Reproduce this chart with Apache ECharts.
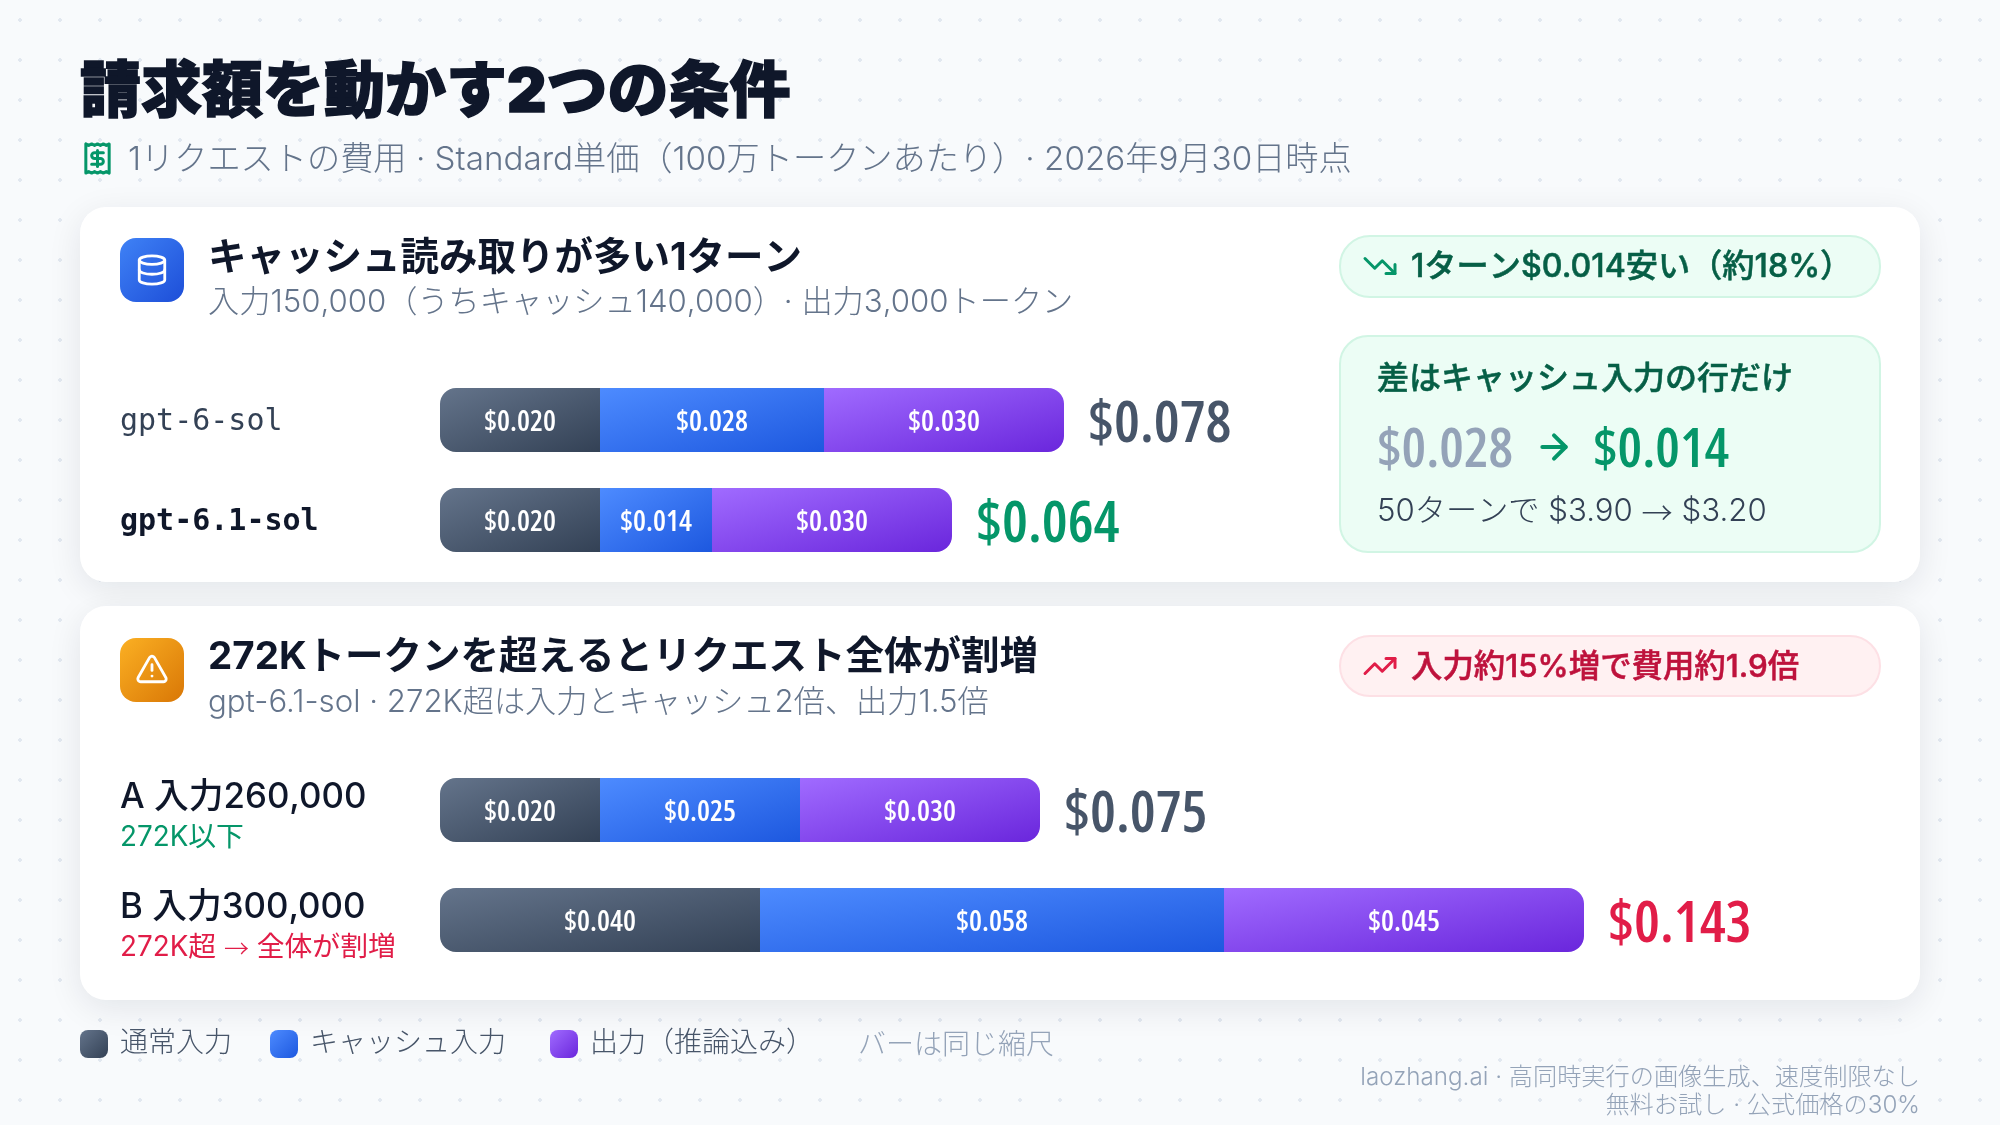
<!DOCTYPE html>
<html><head><meta charset="utf-8">
<style>
html,body{margin:0;padding:0;width:2000px;height:1125px;overflow:hidden;background-color:#f8fafc;
background-image:radial-gradient(circle,#e2e8f0 1.6px,transparent 1.9px);background-size:40px 40px;}
#c{width:2000px;height:1125px;}
</style>
<script src="https://cdn.jsdelivr.net/npm/echarts@6/dist/echarts.min.js"></script>
</head><body><div id="c"></div>
<script>
const seriesNames = ['通常入力','キャッシュ入力','出力（推論込み）'];
const cacheModels = ['gpt-6-sol','gpt-6.1-sol'];
const cacheNormal = [0.020,0.020];
const cacheCached = [0.028,0.014];
const cacheOutput = [0.030,0.030];
const cacheTotals = [0.078,0.064];
const tierCases = ['A 入力260,000','B 入力300,000'];
const tierNotes = ['272K以下','272K超 {ra|→} 全体が割増'];
const tierNormal = [0.020,0.040];
const tierCached = [0.025,0.058];
const tierOutput = [0.030,0.045];
const tierTotals = [0.075,0.143];

const CJK = "Inter,'Noto Sans CJK JP',sans-serif";
const JP = "'Noto Sans CJK JP',sans-serif";
const NUM = "'Open Sans','Noto Sans CJK JP',sans-serif";
const NARROW = 'condensed';
const MONO = "'DejaVu Sans Mono',monospace";
const GRID_W = 1200, AXIS_MAX = 0.15, BAR_H = 64;
const lg = (a,b,x2,y2)=>new echarts.graphic.LinearGradient(0,0,x2===undefined?1:x2,y2===undefined?1:y2,[{offset:0,color:a},{offset:1,color:b}]);
const fills = [['#64748b','#334155'],['#4d8bff','#1d58df'],['#a06bff','#6a26dc']];
// box-relative diagonal gradient: colour bands follow the bar's anti-diagonal
function barFill(idx,v){
  const w=v*GRID_W/AXIS_MAX,h=BAR_H,s=w*w+h*h;
  return lg(fills[idx][0],fills[idx][1],2*h*h/s,2*w*w/s);
}

function txt(x,y,text,size,color,weight,extra){
  return {type:'text',x,y,z:50,silent:true,
    style:Object.assign({text,fontSize:size,fontFamily:CJK,fill:color,fontWeight:weight||400,
      verticalAlign:'middle',align:'left'},extra||{})};
}
function box(x,y,w,h,r,fill,stroke){
  return {type:'rect',x,y,z:5,silent:true,shape:{x:0,y:0,width:w,height:h,r},
    style:{fill,stroke:stroke||null,lineWidth:stroke?2:0}};
}
let shapeCount=0;
function icon(x,y,size,paths,color,sw){
  const k=size/24;
  return {type:'group',x,y,z:60,silent:true,scaleX:k,scaleY:k,
    children:paths.map(p=>{
      const name='iconShape'+(shapeCount++);
      echarts.graphic.registerShape(name,echarts.graphic.extendPath(p,{}));
      return {type:name,z:60,style:{fill:null,stroke:color,lineWidth:sw/k,lineCap:'round',lineJoin:'round'}};
    })};
}
const shadow={shadowBlur:34,shadowOffsetY:8,shadowColor:'rgba(15,23,42,0.09)'};
function card(y,h){
  const b=box(80,y,1840,h,26,'#ffffff');
  b.z=2; Object.assign(b.style,shadow); return b;
}

const ICON_DB=['M3 5a9 3 0 1 0 18 0a9 3 0 1 0-18 0','M3 5V19A9 3 0 0 0 21 19V5','M3 12A9 3 0 0 0 21 12'];
const ICON_WARN=['m21.73 18-8-14a2 2 0 0 0-3.48 0l-8 14A2 2 0 0 0 4 21h16a2 2 0 0 0 1.73-3','M12 9v4','M12 17h.01'];
const ICON_RECEIPT=['M4 2v20l2-1 2 1 2-1 2 1 2-1 2 1 2-1 2 1V2l-2 1-2-1-2 1-2-1-2 1-2-1-2 1Z','M16 8h-6a2 2 0 1 0 0 4h4a2 2 0 1 1 0 4H8','M12 17.5v-11'];
const ICON_DOWN=['M16 17h6v-6','m22 17-8.5-8.5-5 5L2 7'];
const ICON_UP=['M16 7h6v6','m22 7-8.5 8.5-5-5L2 17'];
const ICON_ARROW=['M5 12h14','m12 5 7 7-7 7'];

const graphics=[
  card(207,375), card(606,394),
  txt(80,94,'請求額を動かす2つの条件',61,'#0f172a',900,{stroke:'#0f172a',lineWidth:1.5}),
  icon(80,141,35,ICON_RECEIPT,'#059669',3),
  txt(128,160,'1リクエストの費用 · Standard単価（100万トークンあたり）· 2026年9月30日時点',33.2,'#64748b',300),

  box(120,238,64,64,16,lg('#3f82f6','#1d4ed8')),
  icon(135,253,34,ICON_DB,'#ffffff',2.8),
  txt(208,258,'キャッシュ読み取りが多い1ターン',38.5,'#0f172a',700),
  txt(208,302.5,'入力150,000（うちキャッシュ140,000）· 出力3,000トークン',31.2,'#64748b',300),

  box(1340,236,540,61,30,'#ecfdf5','#d1f5e4'),
  icon(1362,248,36,ICON_DOWN,'#059669',3),
  txt(1411,267.5,'1ターン$0.014安い（約18%）',32.2,'#065f46',500,{stroke:'#065f46',lineWidth:0.5}),

  box(1340,336,540,216,28,'#ecfdf5','#d1f5e4'),
  txt(1377,379,'差はキャッシュ入力の行だけ',32,'#065f46',500,{stroke:'#065f46',lineWidth:0.5}),
  txt(1377,451,'$0.028',55,'#94a3b8',600,{fontFamily:NUM,fontStyle:NARROW}),
  icon(1534,427,40,ICON_ARROW,'#059669',4),
  txt(1593,451,'$0.014',55,'#059669',600,{fontFamily:NUM,fontStyle:NARROW}),
  txt(1377,512,'50ターンで $3.90 {a|→} $3.20',31.2,'#334155',300,
    {rich:{a:{fontFamily:JP,fontSize:31.2,fontWeight:300,fill:'#334155'}}}),

  box(120,638,64,64,16,lg('#fbb023','#d97706')),
  icon(135,652,34,ICON_WARN,'#ffffff',2.8),
  txt(208,657.5,'272Kトークンを超えるとリクエスト全体が割増',38.5,'#0f172a',700),
  txt(208,702.5,'gpt-6.1-sol · 272K超は入力とキャッシュ2倍、出力1.5倍',31.2,'#64748b',300),

  box(1340,636,540,60,30,'#fff1f2','#fde0e5'),
  icon(1362,648,36,ICON_UP,'#e11d48',3),
  txt(1411,667.5,'入力約15%増で費用約1.9倍',31.4,'#be123c',500,{stroke:'#be123c',lineWidth:0.5}),

  txt(858,1046,'バーは同じ縮尺',28,'#94a3b8',300),
  txt(1920,1078,'laozhang.ai · 高同時実行の画像生成、速度制限なし',24.2,'#94a3b8',300,{align:'right'}),
  txt(1920,1106,'無料お試し · 公式価格の30%',24.2,'#94a3b8',300,{align:'right'})
];

const money=v=>'$'+v.toFixed(3);
function stack(name,idx,grid,vals,stackId,radius){
  return {type:'bar',name,xAxisIndex:grid,yAxisIndex:grid,stack:stackId,barWidth:BAR_H,silent:true,z:10,
    data:vals.map(v=>({value:v,itemStyle:{color:barFill(idx,v)}})),
    itemStyle:{color:lg(fills[idx][0],fills[idx][1]),borderRadius:radius},
    label:{show:true,position:'inside',offset:[0,2.5],formatter:p=>money(p.value),color:'#ffffff',fontSize:29,fontFamily:NUM,fontStyle:NARROW,fontWeight:600}};
}
function totals(grid,vals,colors){
  return {type:'scatter',name:'total'+grid,xAxisIndex:grid,yAxisIndex:grid,symbolSize:0,silent:true,z:12,
    itemStyle:{opacity:1},
    data:vals.map((v,i)=>({value:[v,i],label:{color:colors[i]}})),
    label:{show:true,position:'right',distance:24,offset:[0,5],opacity:1,formatter:p=>money(p.value[0]),fontSize:58,fontFamily:NUM,fontStyle:NARROW,fontWeight:600}};
}
const R0=[16,0,0,16],R2=[0,16,16,0];
const legendIcon='path://M8 0h12a8 8 0 0 1 8 8v12a8 8 0 0 1-8 8H8a8 8 0 0 1-8-8V8a8 8 0 0 1 8-8z';
const legendLefts=[80,270,550];

const option={
  animation:false,
  textStyle:{fontFamily:CJK},
  graphic:{elements:graphics},
  grid:[
    {left:440,top:370,width:GRID_W,height:200},
    {left:440,top:755,width:GRID_W,height:220}
  ],
  xAxis:[
    {type:'value',gridIndex:0,min:0,max:AXIS_MAX,show:false},
    {type:'value',gridIndex:1,min:0,max:AXIS_MAX,show:false}
  ],
  yAxis:[
    {type:'category',gridIndex:0,inverse:true,data:cacheModels,z:20,
      axisLine:{show:false},axisTick:{show:false},
      axisLabel:{margin:320,align:'left',fontFamily:MONO,fontSize:30,padding:[5,0,0,0],
        formatter:(v,i)=>i===1?'{b|'+v+'}':'{n|'+v+'}',
        rich:{n:{fontFamily:MONO,fontSize:30,color:'#334155'},
              b:{fontFamily:MONO,fontSize:30,color:'#0f172a',fontWeight:700}}}},
    {type:'category',gridIndex:1,inverse:true,data:tierCases,z:20,
      axisLine:{show:false},axisTick:{show:false},
      axisLabel:{margin:320,align:'left',padding:[14,0,0,0],
        formatter:(v,i)=>'{h|'+v+'}\n{'+(i===0?'g':'r')+'|'+(i===0?tierNotes[i]:tierNotes[i].split(/\{ra\|→\}/).join('}{ra|→}{r|'))+'}',
        rich:{h:{fontFamily:CJK,fontSize:34.8,fontWeight:500,color:'#0f172a',lineHeight:42},
              g:{fontFamily:CJK,fontSize:27.8,fontWeight:400,color:'#059669',lineHeight:38},
              r:{fontFamily:CJK,fontSize:27.8,fontWeight:400,color:'#e11d48',lineHeight:38},
              ra:{fontFamily:JP,fontSize:25,fontWeight:300,color:'#e11d48',lineHeight:38}}}}
  ],
  legend:seriesNames.map((n,i)=>({show:true,left:legendLefts[i],top:1030,padding:0,selectedMode:false,
    itemWidth:28,itemHeight:28,icon:legendIcon,data:[n],
    textStyle:{fontSize:28,color:'#475569',fontFamily:CJK,fontWeight:300,padding:[2,0,0,7]}})),
  series:[
    stack(seriesNames[0],0,0,cacheNormal,'a',R0),
    stack(seriesNames[1],1,0,cacheCached,'a',0),
    stack(seriesNames[2],2,0,cacheOutput,'a',R2),
    totals(0,cacheTotals,['#475569','#059669']),
    stack(seriesNames[0],0,1,tierNormal,'b',R0),
    stack(seriesNames[1],1,1,tierCached,'b',0),
    stack(seriesNames[2],2,1,tierOutput,'b',R2),
    totals(1,tierTotals,['#475569','#e11d48'])
  ]
};
const chart=echarts.init(document.getElementById('c'),null,{renderer:'canvas',width:2000,height:1125});
chart.setOption(option);
</script></body></html>
